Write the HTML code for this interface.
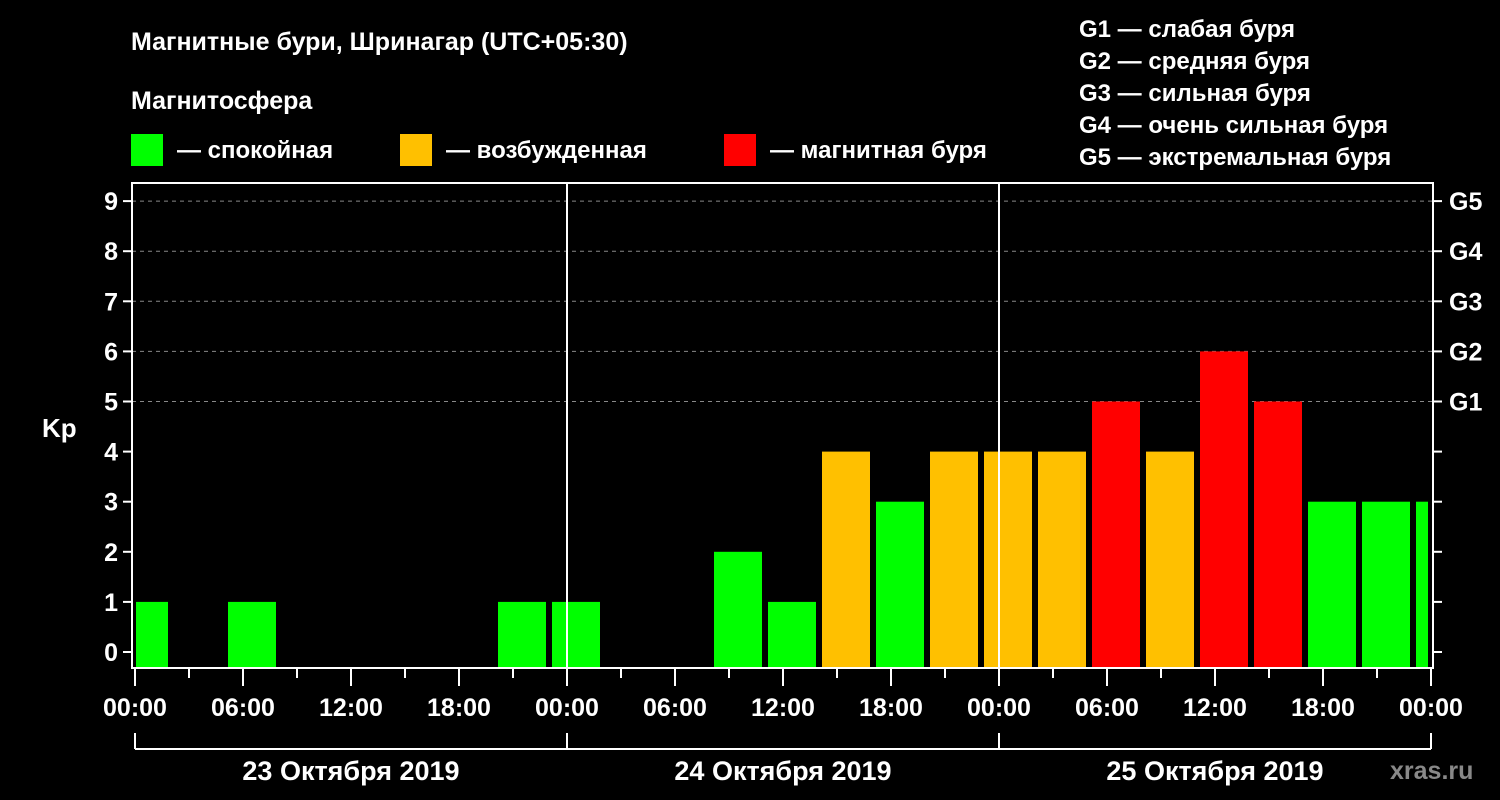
<!DOCTYPE html>
<html><head><meta charset="utf-8"><style>
html,body{margin:0;padding:0;background:#000;}
svg{display:block;font-family:"Liberation Sans",Arial,sans-serif;font-weight:bold;}
</style></head><body>
<svg id="chart" width="1500" height="800" viewBox="0 0 1500 800">
<rect x="0" y="0" width="1500" height="800" fill="#000"/>
<text x="131" y="50" fill="#fff" font-size="25">Магнитные бури, Шринагар (UTC+05:30)</text>
<text x="131" y="109" fill="#fff" font-size="25">Магнитосфера</text>
<g><rect x="131" y="134" width="32" height="32" fill="#00ff00"/><text x="177" y="158" fill="#fff" font-size="24">— спокойная</text></g>
<g><rect x="400" y="134" width="32" height="32" fill="#ffc000"/><text x="446" y="158" fill="#fff" font-size="24">— возбужденная</text></g>
<g><rect x="724" y="134" width="32" height="32" fill="#ff0000"/><text x="770" y="158" fill="#fff" font-size="24">— магнитная буря</text></g>
<g fill="#fff" font-size="24">
<text x="1079" y="37">G1 — слабая буря</text>
<text x="1079" y="69">G2 — средняя буря</text>
<text x="1079" y="101">G3 — сильная буря</text>
<text x="1079" y="133">G4 — очень сильная буря</text>
<text x="1079" y="165">G5 — экстремальная буря</text>
</g>
<text x="42" y="437" fill="#fff" font-size="26">Kp</text>
<text x="1390" y="779" fill="#888" font-size="25">xras.ru</text>
<g id="grid"></g>
<g id="bars"></g>
<g id="axes"></g>
</svg>
<script>
const kpValues = [1,0,1,0,0,0,0,1,1,0,0,2,1,4,3,4,4,4,5,4,6,5,3,3,3];
const firstBarHour = -5/6;
const yTicks = [0,1,2,3,4,5,6,7,8,9];
const gLabels = ["G1","G2","G3","G4","G5"];
const gLevels = [5,6,7,8,9];
const xTickLabels = ["00:00","06:00","12:00","18:00","00:00","06:00","12:00","18:00","00:00","06:00","12:00","18:00","00:00"];
const dayLabels = ["23 Октября 2019","24 Октября 2019","25 Октября 2019"];

const NS="http://www.w3.org/2000/svg";
const X0=135, PX_H=18, Y0=652, PX_U=50.1;
const plotL=132, plotR=1433, plotT=183, plotB=668, clipL=136, clipR=1428;
const xScale=h=>X0+h*PX_H;
const yScale=v=>Y0-v*PX_U;
function mk(tag,attrs,parent){const e=document.createElementNS(NS,tag);for(const k in attrs)e.setAttribute(k,attrs[k]);parent.appendChild(e);return e;}
const grid=document.getElementById('grid'),bars=document.getElementById('bars'),axes=document.getElementById('axes');

gLevels.forEach((lv,i)=>{
  const l=mk('line',{x1:plotL,x2:plotR,y1:yScale(lv),y2:yScale(lv),stroke:'#888','stroke-width':1,'stroke-dasharray':'4,4'},grid);
  
  
});

kpValues.forEach((v,i)=>{
  if(v<=0)return;
  let x1=xScale(firstBarHour+3*i), x2=x1+48;
  x1=Math.max(x1,clipL); x2=Math.min(x2,clipR);
  if(x2<=x1)return;
  const col=v>=5?'#ff0000':(v>=4?'#ffc000':'#00ff00');
  const r=mk('rect',{x:x1,y:yScale(v),width:x2-x1,height:plotB-yScale(v),fill:col},bars);
  
  
});

// frame
const fr=mk('rect',{x:plotL,y:plotT,width:plotR-plotL,height:plotB-plotT,fill:'none',stroke:'#fff','stroke-width':2},axes);


// day separators
[1,2].forEach(d=>{
  const l=mk('line',{x1:xScale(24*d),x2:xScale(24*d),y1:plotT,y2:plotB,stroke:'#fff','stroke-width':2},axes);
  
  
});
// y ticks
yTicks.forEach(t=>{
  const y=yScale(t);
  mk('line',{x1:plotL-9,x2:plotL,y1:y,y2:y,stroke:'#fff','stroke-width':2},axes);
  mk('line',{x1:plotR,x2:plotR+9,y1:y,y2:y,stroke:'#fff','stroke-width':2},axes);
  const tx=mk('text',{x:plotL-14,y:y+9,fill:'#fff','font-size':25,'text-anchor':'end'},axes);
  tx.textContent=t;
  
  
});
gLevels.forEach((lv,i)=>{
  const tx=mk('text',{x:plotR+16,y:yScale(lv)+9,fill:'#fff','font-size':25},axes);
  tx.textContent=gLabels[i];
  
  
});
// x ticks
for(let h=0;h<=72;h+=3){
  const x=xScale(h), major=h%6===0;
  mk('line',{x1:x,x2:x,y1:plotB,y2:plotB+(major?18:10),stroke:'#fff','stroke-width':2},axes);
}
xTickLabels.forEach((s,i)=>{
  const tx=mk('text',{x:xScale(6*i),y:716,fill:'#fff','font-size':25,'text-anchor':'middle'},axes);
  tx.textContent=s;
  
  
});
// date bracket
mk('line',{x1:xScale(0),x2:xScale(72),y1:749,y2:749,stroke:'#fff','stroke-width':2},axes);
for(let d=0;d<=3;d++) mk('line',{x1:xScale(24*d),x2:xScale(24*d),y1:733,y2:749,stroke:'#fff','stroke-width':2},axes);
dayLabels.forEach((s,i)=>{
  const tx=mk('text',{x:xScale(24*i+12),y:780,fill:'#fff','font-size':27,'text-anchor':'middle'},axes);
  tx.textContent=s;
  
  
});
</script>
</body></html>
